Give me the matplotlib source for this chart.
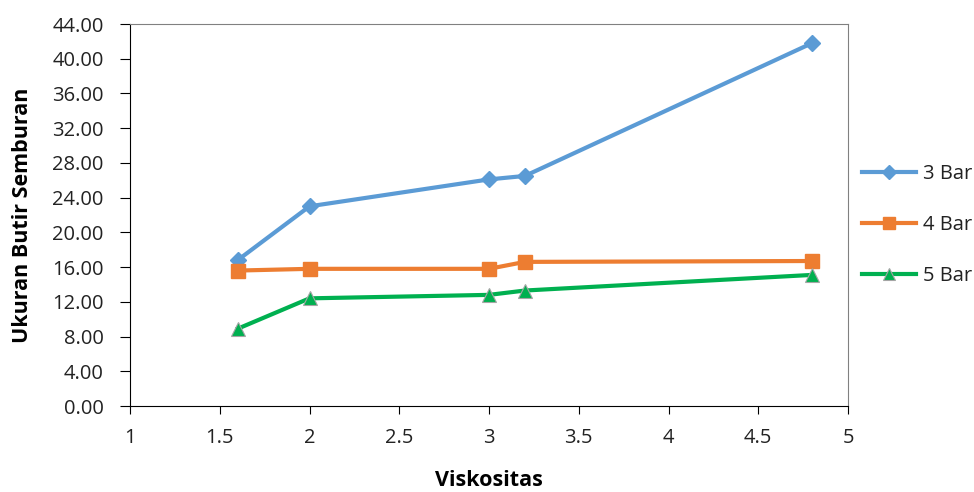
import matplotlib
matplotlib.use("Agg")
import matplotlib.pyplot as plt
from matplotlib.lines import Line2D

viskositas = [1.6, 2.0, 3.0, 3.2, 4.8]
bar3 = [16.8, 23.0, 26.1, 26.5, 41.8]
bar4 = [15.6, 15.8, 15.8, 16.6, 16.7]
bar5 = [8.9, 12.4, 12.8, 13.3, 15.1]
labels = ["3 Bar", "4 Bar", "5 Bar"]
yticks = [0, 4, 8, 12, 16, 20, 24, 28, 32, 36, 40, 44]
xticks = [1, 1.5, 2, 2.5, 3, 3.5, 4, 4.5, 5]

plt.rcParams['font.family'] = ['Open Sans', 'DejaVu Sans']

fig = plt.figure(figsize=(9.74, 4.92), dpi=100)
ax = fig.add_axes([130/974, 1-406/492, (848-130)/974, (406-24)/492])

colors = ['#5B9BD5', '#ED7D31', '#00B050']
ax.plot(viskositas, bar3, color=colors[0], lw=3, marker='D', ms=8, label=labels[0])
ax.plot(viskositas, bar4, color=colors[1], lw=3, marker='s', ms=10, label=labels[1])
ax.plot(viskositas, bar5, color=colors[2], lw=3, marker='^', ms=10,
        markeredgecolor='#A5A5A5', markeredgewidth=0.8, label=labels[2])

ax.set_xlim(1, 5)
ax.set_ylim(0, 44)
ax.set_xticks(xticks)
ax.set_xticklabels([f"{v:g}" for v in xticks], fontsize=14.5, color='#222222')
ax.set_yticks(yticks)
ax.set_yticklabels([f"{v:.2f}" for v in yticks], fontsize=14.5, color='#222222')
ax.tick_params(axis='y', direction='out', length=7, color='#000000', pad=12)
ax.tick_params(axis='x', direction='out', length=6, color='#000000', pad=10)
for s in ['top', 'right']:
    ax.spines[s].set_color('#808080')
ax.spines['left'].set_color('#000000')
ax.spines['bottom'].set_color('#000000')

ax.set_xlabel('Viskositas', fontsize=15.5, fontweight='bold')
ax.set_ylabel('Ukuran Butir Semburan', fontsize=15.5, fontweight='bold')
ax.xaxis.set_label_coords(0.5, (406-480)/382, transform=ax.transAxes)
ax.yaxis.set_label_coords((23-130)/718, 0.5, transform=ax.transAxes)
ax.xaxis.label.set_va('center')
ax.yaxis.label.set_va('center')

handles = [
    Line2D([], [], color=colors[0], lw=3, marker='D', ms=7),
    Line2D([], [], color=colors[1], lw=3, marker='s', ms=9),
    Line2D([], [], color=colors[2], lw=3, marker='^', ms=9, markeredgecolor='#A5A5A5', markeredgewidth=0.8),
]
leg = fig.legend(handles, labels, loc='center left', bbox_to_anchor=(848/974, 1-225/492), frameon=False,
                 fontsize=14.5, handlelength=2.7, labelspacing=1.55, handletextpad=0.3, borderpad=0.2,
                 labelcolor='#222222')

fig.savefig('out.png', dpi=100)
